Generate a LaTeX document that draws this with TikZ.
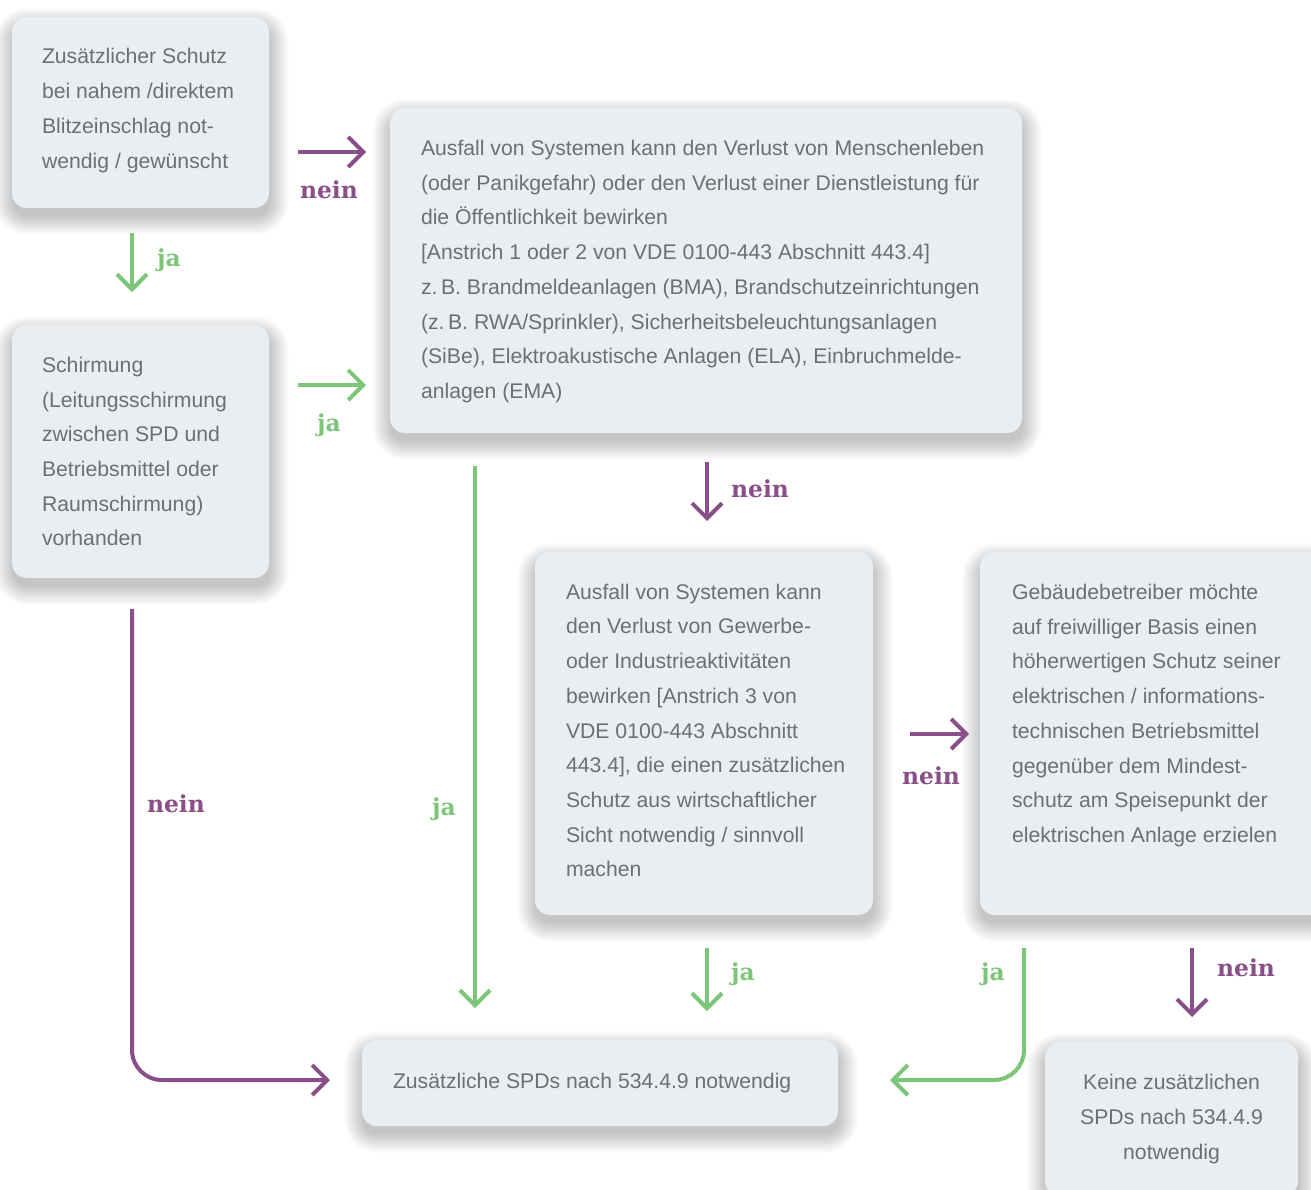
\documentclass[tikz,border=0pt]{standalone}
\usepackage{fontspec}
\setmainfont{Liberation Sans}
\newfontfamily\slabfont{DejaVu Serif}
\usetikzlibrary{arrows.meta,calc,backgrounds}
\definecolor{boxfill}{HTML}{E8EEF2}
\definecolor{txtgray}{HTML}{6F6F6F}
\definecolor{nopurple}{HTML}{8A4F89}
\definecolor{yesgreen}{HTML}{7CC677}
\tikzset{
  box/.style={draw=none, fill=boxfill, rounded corners=7.5pt, inner sep=0pt},
  txt/.style={anchor=west, align=left, inner sep=0pt, text=txtgray,
    font=\fontsize{10.6}{17.35}\selectfont},
  lbl/.style={font=\slabfont\bfseries\fontsize{11.7}{13}\selectfont, inner sep=0pt},
  nolbl/.style={lbl, text=nopurple},
  yeslbl/.style={lbl, text=yesgreen},
  noarr/.style={draw=nopurple, line width=2pt, rounded corners=15pt,
    -{Straight Barb[length=7.5pt,width=15pt]}},
  yesarr/.style={draw=yesgreen, line width=2pt, rounded corners=15pt,
    -{Straight Barb[length=7.5pt,width=15pt]}},
  shadowlayer/.style={fill=black, opacity=0.025}
}
\begin{document}
\begin{tikzpicture}[x=0.5pt,y=-0.5pt]
\useasboundingbox (0,0) rectangle (1311,1189);

% boxes
\node[box, minimum width=128.5pt, minimum height=95.5pt] (A) at (140.5,112.5) {};
\node[box, minimum width=316pt, minimum height=162.5pt] (B) at (706,270.5) {};
\node[box, minimum width=128.5pt, minimum height=126.5pt] (C) at (140.5,451.5) {};
\node[box, minimum width=169pt, minimum height=181.5pt] (D) at (704,733.5) {};
\node[box, minimum width=182.5pt, minimum height=181.5pt] (E) at (1162.5,733.5) {};
\node[box, minimum width=238pt, minimum height=43pt] (F) at (600,1083) {};
\node[box, minimum width=126.5pt, minimum height=77pt, align=center, text=txtgray,
  font=\fontsize{10.6}{17.35}\selectfont] (G) at (1171.5,1119)
  {Keine zusätzlichen\\SPDs nach 534.4.9\\notwendig};

% soft shadows behind the boxes
\begin{pgfonlayer}{background}
\fill[white] (0,0) rectangle (1311,1189);
\foreach \n in {A,B,C,D,E,F,G}{
  \foreach \d in {0,1,...,9}{
    \fill[shadowlayer, rounded corners=7.5pt+\d pt]
      ($(\n.south west)+(-\d pt+0.5pt,-\d pt-4pt)$) rectangle
      ($(\n.north east)+(\d pt+0.5pt,\d pt-5pt)$);
  }
}
\end{pgfonlayer}

% texts
\node[txt] (At) at ($(A.west)+(30,-2)$) {Zusätzlicher Schutz\\bei nahem /direktem\\Blitzeinschlag not-\\wendig / gewünscht};
\node[txt] (Bt) at ($(B.west)+(31,1)$) {Ausfall von Systemen kann den Verlust von Menschenleben\\(oder Panikgefahr) oder den Verlust einer Dienstleistung für\\die Öffentlichkeit bewirken\\{[}Anstrich 1 oder 2 von VDE 0100-443 Abschnitt 443.4{]}\\z.\,B. Brandmeldeanlagen (BMA), Brandschutzeinrichtungen\\(z.\,B. RWA/Sprinkler), Sicherheitsbeleuchtungsanlagen\\(SiBe), Elektroakustische Anlagen (ELA), Einbruchmelde-\\anlagen (EMA)};
\node[txt] (Ct) at ($(C.west)+(30,0)$) {Schirmung\\(Leitungsschirmung\\zwischen SPD und\\Betriebsmittel oder\\Raumschirmung)\\vorhanden};
\node[txt] (Dt) at ($(D.west)+(31,-3)$) {Ausfall von Systemen kann\\den Verlust von Gewerbe-\\oder Industrieaktivitäten\\bewirken {[}Anstrich 3 von\\VDE 0100-443 Abschnitt\\443.4{]}, die einen zusätzlichen\\Schutz aus wirtschaftlicher\\Sicht notwendig / sinnvoll\\machen};
\node[txt] (Et) at ($(E.west)+(32,-18)$) {Gebäudebetreiber möchte\\auf freiwilliger Basis einen\\höherwertigen Schutz seiner\\elektrischen / informations-\\technischen Betriebsmittel\\gegenüber dem Mindest-\\schutz am Speisepunkt der\\elektrischen Anlage erzielen};
\node[txt] (Ft) at ($(F.west)+(31,0)$) {Zusätzliche SPDs nach 534.4.9 notwendig};

% connector end points
\coordinate (ab1) at (298,152);  \coordinate (ab2) at (366,152);
\coordinate (ac1) at (132,233);  \coordinate (ac2) at (132,292);
\coordinate (cb1) at (298,385);  \coordinate (cb2) at (366,385);
\coordinate (bd1) at (707,462);  \coordinate (bd2) at (707,521);
\coordinate (bf1) at (475,466);  \coordinate (bf2) at (475,1008);
\coordinate (cf1) at (132,609);  \coordinate (cf2) at (330,1080);
\coordinate (de1) at (910,734);  \coordinate (de2) at (969,734);
\coordinate (df1) at (707,948);  \coordinate (df2) at (707,1011);
\coordinate (ef1) at (1024,948); \coordinate (ef2) at (890,1080);
\coordinate (eg1) at (1192,948); \coordinate (eg2) at (1192,1017);

% connectors
\draw[noarr] (ab1) -- (ab2);
\draw[yesarr] (ac1) -- (ac2);
\draw[yesarr] (cb1) -- (cb2);
\draw[noarr] (bd1) -- (bd2);
\draw[yesarr] (bf1) -- (bf2);
\draw[noarr] (cf1) |- (cf2);
\draw[noarr] (de1) -- (de2);
\draw[yesarr] (df1) -- (df2);
\draw[yesarr] (ef1) |- (ef2);
\draw[noarr] (eg1) -- (eg2);

% labels
\node[nolbl] (l1) at (329,190) {nein};
\node[yeslbl] (l2) at (169,260) {ja};
\node[yeslbl] (l3) at (329,425) {ja};
\node[nolbl] (l4) at (760,489) {nein};
\node[yeslbl] (l5) at (444,809) {ja};
\node[nolbl] (l6) at (176,804) {nein};
\node[nolbl] (l7) at (931,776) {nein};
\node[yeslbl] (l8) at (743,974) {ja};
\node[yeslbl] (l9) at (993,974) {ja};
\node[nolbl] (l10) at (1246,968) {nein};
\end{tikzpicture}
\end{document}
